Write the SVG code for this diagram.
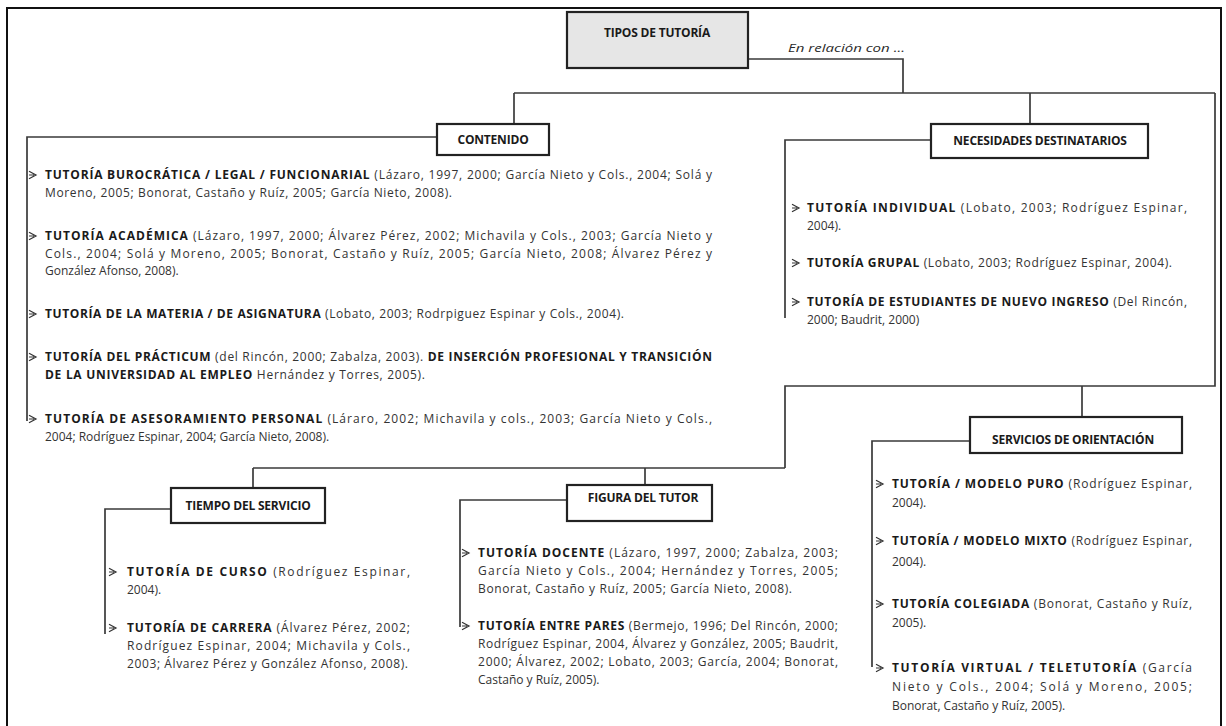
<svg xmlns="http://www.w3.org/2000/svg" xmlns:xlink="http://www.w3.org/1999/xlink" width="1226" height="726" viewBox="0 0 1226 726">
  <defs>
    <style>
      .frame { fill: #ffffff; stroke: #111111; stroke-width: 2; }
      .box { fill: #ffffff; stroke: #222222; stroke-width: 2.2; }
      .root { fill: #e6e6e6; stroke: #222222; stroke-width: 2.2; }
      .wire { fill: none; stroke: #3a3a3a; stroke-width: 1.7; }
      .title { font-family: "Open Sans", "Liberation Sans", sans-serif; font-size: 12px; font-weight: bold; fill: #1a1a1a; text-anchor: middle; letter-spacing: -0.2px; }
      .t { font-family: "Open Sans", "Liberation Sans", sans-serif; font-size: 12px; fill: #333333; }
      .b { font-weight: bold; fill: #1a1a1a; }
      .note { font-family: "Open Sans", "Liberation Sans", sans-serif; font-size: 11.5px; font-style: italic; fill: #2a2a2a; }
      .bul { fill: none; stroke: #333333; stroke-width: 1.2; stroke-linejoin: miter; }
    </style>
    <!-- list bullet: open arrowhead -->
    <path id="arrowBullet" class="bul" d="M0,-3.8 L7,0 L0,3.8 M0,0 L5,0"/>
  </defs>

  <rect class="frame" x="7" y="8" width="1214" height="740"/>

  <!-- connectors -->
  <g id="connectors">
    <polyline class="wire" points="748,59 903,59 903,93"/>
    <line class="wire" x1="514" y1="93" x2="1215" y2="93"/>
    <line class="wire" x1="514" y1="93" x2="514" y2="124"/>
    <line class="wire" x1="1030" y1="93" x2="1030" y2="124"/>
    <polyline class="wire" points="1215,93 1215,386 785,386 785,468"/>
    <line class="wire" x1="1082" y1="386" x2="1082" y2="417"/>
    <line class="wire" x1="253" y1="468" x2="785" y2="468"/>
    <line class="wire" x1="253" y1="468" x2="253" y2="488"/>
    <line class="wire" x1="645" y1="468" x2="645" y2="485"/>
    <polyline class="wire" points="437,137 27,137 27,421"/>
    <polyline class="wire" points="931,140 785,140 785,318"/>
    <polyline class="wire" points="171,509 105,509 105,634"/>
    <polyline class="wire" points="567,500 460,500 460,627"/>
    <polyline class="wire" points="970,441 872,441 872,667"/>
  </g>

  <!-- root -->
  <g id="tipos">
    <rect class="root" x="567" y="12" width="181" height="56"/>
    <text class="title" x="657" y="37">TIPOS DE TUTORÍA</text>
    <text class="note" x="788" y="52" textLength="117" lengthAdjust="spacingAndGlyphs">En relación con  ...</text>
  </g>

  <!-- CONTENIDO -->
  <g id="contenido">
    <rect class="box" x="437" y="124" width="112" height="31"/>
    <text class="title" x="493" y="144">CONTENIDO</text>
    <g class="items">
      <use xlink:href="#arrowBullet" x="29" y="175"/>
      <text class="t" x="45" y="179" textLength="667" lengthAdjust="spacing"><tspan class="b">TUTORÍA BUROCRÁTICA / LEGAL / FUNCIONARIAL</tspan> (Lázaro, 1997, 2000; García Nieto y Cols., 2004; Solá y</text>
      <text class="t" x="45" y="197" textLength="407" lengthAdjust="spacing">Moreno, 2005; Bonorat, Castaño y Ruíz, 2005; García Nieto, 2008).</text>
      <use xlink:href="#arrowBullet" x="29" y="236"/>
      <text class="t" x="45" y="240" textLength="667" lengthAdjust="spacing"><tspan class="b">TUTORÍA ACADÉMICA</tspan> (Lázaro, 1997, 2000; Álvarez Pérez, 2002; Michavila y Cols., 2003; García Nieto y</text>
      <text class="t" x="45" y="258" textLength="667" lengthAdjust="spacing">Cols., 2004; Solá y Moreno, 2005; Bonorat, Castaño y Ruíz, 2005; García Nieto, 2008;  Álvarez Pérez y</text>
      <text class="t" x="45" y="275">González Afonso, 2008).</text>
      <use xlink:href="#arrowBullet" x="29" y="314"/>
      <text class="t" x="45" y="318" textLength="579" lengthAdjust="spacing"><tspan class="b">TUTORÍA DE LA MATERIA / DE ASIGNATURA</tspan> (Lobato, 2003; Rodrpiguez Espinar y Cols., 2004).</text>
      <use xlink:href="#arrowBullet" x="29" y="357"/>
      <text class="t" x="45" y="361" textLength="667" lengthAdjust="spacing"><tspan class="b">TUTORÍA DEL PRÁCTICUM</tspan> (del Rincón, 2000; Zabalza, 2003). <tspan class="b">DE INSERCIÓN PROFESIONAL Y TRANSICIÓN</tspan></text>
      <text class="t" x="45" y="379" textLength="380" lengthAdjust="spacing"><tspan class="b">DE LA UNIVERSIDAD AL EMPLEO</tspan> Hernández y Torres, 2005).</text>
      <use xlink:href="#arrowBullet" x="29" y="419"/>
      <text class="t" x="45" y="423" textLength="667" lengthAdjust="spacing"><tspan class="b">TUTORÍA DE ASESORAMIENTO PERSONAL</tspan> (Láraro, 2002; Michavila y cols., 2003; García Nieto   y Cols.,</text>
      <text class="t" x="45" y="441">2004; Rodríguez Espinar, 2004; García Nieto, 2008).</text>
    </g>
  </g>

  <!-- NECESIDADES DESTINATARIOS -->
  <g id="necesidades">
    <rect class="box" x="931" y="124" width="217" height="34"/>
    <text class="title" x="1040" y="145">NECESIDADES DESTINATARIOS</text>
    <g class="items">
      <use xlink:href="#arrowBullet" x="792" y="208"/>
      <text class="t" x="807" y="212" textLength="380" lengthAdjust="spacing"><tspan class="b">TUTORÍA INDIVIDUAL</tspan> (Lobato, 2003; Rodríguez Espinar,</text>
      <text class="t" x="807" y="230">2004).</text>
      <use xlink:href="#arrowBullet" x="792" y="263"/>
      <text class="t" x="807" y="267" textLength="365" lengthAdjust="spacing"><tspan class="b">TUTORÍA GRUPAL</tspan> (Lobato, 2003; Rodríguez Espinar, 2004).</text>
      <use xlink:href="#arrowBullet" x="792" y="302"/>
      <text class="t" x="807" y="306" textLength="380" lengthAdjust="spacing"><tspan class="b">TUTORÍA DE ESTUDIANTES DE NUEVO INGRESO</tspan> (Del Rincón,</text>
      <text class="t" x="807" y="324">2000; Baudrit, 2000)</text>
    </g>
  </g>

  <!-- TIEMPO DEL SERVICIO -->
  <g id="tiempo">
    <rect class="box" x="171" y="488" width="154" height="35"/>
    <text class="title" x="248" y="510">TIEMPO DEL SERVICIO</text>
    <g class="items">
      <use xlink:href="#arrowBullet" x="109" y="572"/>
      <text class="t" x="127" y="576" textLength="283" lengthAdjust="spacing"><tspan class="b">TUTORÍA   DE   CURSO</tspan>   (Rodríguez   Espinar,</text>
      <text class="t" x="127" y="594">2004).</text>
      <use xlink:href="#arrowBullet" x="109" y="628"/>
      <text class="t" x="127" y="632" textLength="283" lengthAdjust="spacing"><tspan class="b">TUTORÍA  DE CARRERA</tspan> (Álvarez Pérez, 2002;</text>
      <text class="t" x="127" y="650" textLength="283" lengthAdjust="spacing">Rodríguez  Espinar,  2004;  Michavila  y  Cols.,</text>
      <text class="t" x="127" y="668" textLength="281" lengthAdjust="spacing">2003; Álvarez Pérez y González Afonso, 2008).</text>
    </g>
  </g>

  <!-- FIGURA DEL TUTOR -->
  <g id="figura">
    <rect class="box" x="567" y="485" width="145" height="36"/>
    <text class="title" x="643" y="502">FIGURA DEL TUTOR</text>
    <g class="items">
      <use xlink:href="#arrowBullet" x="462" y="553"/>
      <text class="t" x="478" y="557" textLength="360" lengthAdjust="spacing"><tspan class="b">TUTORÍA DOCENTE</tspan> (Lázaro, 1997, 2000; Zabalza, 2003;</text>
      <text class="t" x="478" y="575" textLength="360" lengthAdjust="spacing">García Nieto y Cols., 2004; Hernández y Torres, 2005;</text>
      <text class="t" x="478" y="593" textLength="314" lengthAdjust="spacing">Bonorat, Castaño y Ruíz, 2005; García Nieto, 2008).</text>
      <use xlink:href="#arrowBullet" x="462" y="626"/>
      <text class="t" x="478" y="630" textLength="360" lengthAdjust="spacing"><tspan class="b">TUTORÍA ENTRE PARES</tspan> (Bermejo, 1996; Del Rincón, 2000;</text>
      <text class="t" x="478" y="648" textLength="360" lengthAdjust="spacing">Rodríguez Espinar, 2004, Álvarez y González, 2005; Baudrit,</text>
      <text class="t" x="478" y="666" textLength="360" lengthAdjust="spacing">2000; Álvarez, 2002; Lobato, 2003; García, 2004; Bonorat,</text>
      <text class="t" x="478" y="684">Castaño y Ruíz, 2005).</text>
    </g>
  </g>

  <!-- SERVICIOS DE ORIENTACIÓN -->
  <g id="servicios">
    <rect class="box" x="970" y="417" width="212" height="36"/>
    <text class="title" x="1073" y="444">SERVICIOS DE ORIENTACIÓN</text>
    <g class="items">
      <use xlink:href="#arrowBullet" x="876" y="484"/>
      <text class="t" x="892" y="488" textLength="300" lengthAdjust="spacing"><tspan class="b">TUTORÍA / MODELO PURO</tspan> (Rodríguez Espinar,</text>
      <text class="t" x="892" y="507">2004).</text>
      <use xlink:href="#arrowBullet" x="876" y="541"/>
      <text class="t" x="892" y="545" textLength="300" lengthAdjust="spacing"><tspan class="b">TUTORÍA / MODELO MIXTO</tspan> (Rodríguez Espinar,</text>
      <text class="t" x="892" y="566">2004).</text>
      <use xlink:href="#arrowBullet" x="876" y="604"/>
      <text class="t" x="892" y="608" textLength="300" lengthAdjust="spacing"><tspan class="b">TUTORÍA COLEGIADA</tspan>  (Bonorat, Castaño y Ruíz,</text>
      <text class="t" x="892" y="627">2005).</text>
      <use xlink:href="#arrowBullet" x="876" y="668"/>
      <text class="t" x="892" y="672" textLength="300" lengthAdjust="spacing"><tspan class="b">TUTORÍA VIRTUAL / TELETUTORÍA</tspan>   (García</text>
      <text class="t" x="892" y="691" textLength="300" lengthAdjust="spacing">Nieto y Cols., 2004; Solá y Moreno, 2005;</text>
      <text class="t" x="892" y="710">Bonorat, Castaño y Ruíz, 2005).</text>
    </g>
  </g>
</svg>
